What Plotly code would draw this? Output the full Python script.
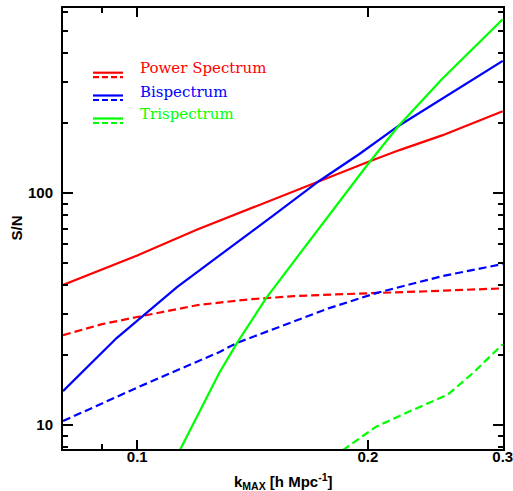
import plotly.graph_objects as go

# Power spectrum
k_ps = [0.08, 0.09, 0.10, 0.12, 0.14, 0.16, 0.18, 0.20, 0.22, 0.25, 0.30]
ps_solid = [40.1, 46.8, 53.8, 69.7, 85.4, 101.9, 119.0, 136.0, 153.0, 177.0, 225.0]
ps_dash = [24.4, 27.2, 29.2, 32.9, 34.8, 35.9, 36.5, 36.9, 37.3, 37.9, 38.8]

# Bispectrum
k_bs = [0.08, 0.094, 0.1127, 0.1279, 0.15, 0.1728, 0.195, 0.2193, 0.25, 0.30]
bs_solid = [14.0, 23.7, 39.3, 53.5, 79.3, 112.6, 147.2, 194.4, 254.7, 371.0]
k_bsd = [0.08, 0.10, 0.1279, 0.135, 0.1781, 0.205, 0.25, 0.30]
bs_dash = [10.4, 14.5, 20.6, 22.6, 31.9, 37.0, 43.8, 49.4]

# Trispectrum
k_ts = [0.11, 0.12, 0.128, 0.135, 0.1474, 0.16, 0.18, 0.20, 0.2193, 0.25, 0.30]
ts_solid = [6.3, 11.0, 16.8, 22.6, 35.3, 50.5, 84.4, 133.0, 194.4, 310.0, 560.0]
k_tsd = [0.18, 0.1864, 0.205, 0.2288, 0.2542, 0.2741, 0.30]
ts_dash = [7.26, 7.88, 9.83, 11.6, 13.5, 16.7, 22.3]

RED, BLUE, GREEN = "#ff0000", "#0000ff", "#00ff00"
DASH = "8px,4px"
LW = 2.2

fig = go.Figure()
series = [
    (k_ps, ps_solid, RED, "solid"), (k_ps, ps_dash, RED, DASH),
    (k_bs, bs_solid, BLUE, "solid"), (k_bsd, bs_dash, BLUE, DASH),
    (k_ts, ts_solid, GREEN, "solid"), (k_tsd, ts_dash, GREEN, DASH),
]
for xs, ys, c, d in series:
    fig.add_trace(go.Scatter(x=xs, y=ys, mode="lines",
                             line=dict(color=c, width=LW, dash=d),
                             showlegend=False, hoverinfo="skip"))

# custom legend (solid over dashed sample + label)
legend_items = [("Power Spectrum", RED, 72.7, 68), ("Bispectrum", BLUE, 95.5, 91.5),
                ("Trispectrum", GREEN, 118.5, 114.5)]
H = 491 - 8 - 42
W = 513 - 63 - 10
def px(x):
    return (x - 63) / W
def py(y):
    return 1 - (y - 8) / H
for name, c, ys, yt in legend_items:
    fig.add_shape(type="line", xref="paper", yref="paper",
                  x0=px(93), x1=px(123), y0=py(ys), y1=py(ys),
                  line=dict(color=c, width=LW))
    fig.add_shape(type="line", xref="paper", yref="paper",
                  x0=px(93), x1=px(123), y0=py(ys + 4.5), y1=py(ys + 4.5),
                  line=dict(color=c, width=LW, dash="6px,3px"))
    fig.add_annotation(text=name, xref="paper", yref="paper", x=px(138), y=py(yt),
                       xanchor="left", yanchor="middle", showarrow=False,
                       font=dict(family="DejaVu Serif", size=15, color=c))

tickfont = dict(family="Liberation Sans", size=15, color="black", weight="bold")
fig.update_xaxes(type="log", range=[-1.0969, -0.5225],
                 tickvals=[0.1, 0.2, 0.3], ticktext=["0.1", "0.2", "0.3"],
                 ticks="inside", ticklen=9, tickwidth=1.5, tickcolor="black",
                 minor=dict(tickvals=[0.08, 0.09], ticklen=5, tickwidth=1.5,
                            tickcolor="black", ticks="inside"),
                 showline=True, linewidth=2, linecolor="black", mirror="ticks",
                 showgrid=False, zeroline=False, tickfont=tickfont,
                 ticklabelstandoff=-7, ticklabeloverflow="allow")
fig.update_yaxes(type="log", range=[0.8966, 2.797],
                 tickvals=[10, 100], ticktext=["10", "100"],
                 ticks="inside", ticklen=10, tickwidth=1.5, tickcolor="black",
                 minor=dict(tickvals=[8, 9, 20, 30, 40, 50, 60, 70, 80, 90,
                                      200, 300, 400, 500, 600],
                            ticklen=5, tickwidth=1.5, tickcolor="black", ticks="inside"),
                 showline=True, linewidth=2, linecolor="black", mirror="ticks",
                 showgrid=False, zeroline=False, tickfont=tickfont,
                 ticklabelstandoff=5)

fig.add_annotation(text="k<sub>MAX</sub> [h Mpc<sup>-1</sup>]", xref="paper", yref="paper",
                   x=0.5, y=0, yshift=-32, xanchor="center", yanchor="middle",
                   showarrow=False,
                   font=dict(family="Liberation Sans", size=15, color="black", weight="bold"))
fig.add_annotation(text="S/N", xref="paper", yref="paper", x=0, y=0.5, xshift=-47,
                   xanchor="center", yanchor="middle", textangle=-90, showarrow=False,
                   font=dict(family="Liberation Sans", size=15, color="black", weight="bold"))

fig.update_layout(width=513, height=491, margin=dict(l=63, r=10, t=8, b=42, autoexpand=False),
                  plot_bgcolor="white", paper_bgcolor="white")
fig.write_html("out.html")
